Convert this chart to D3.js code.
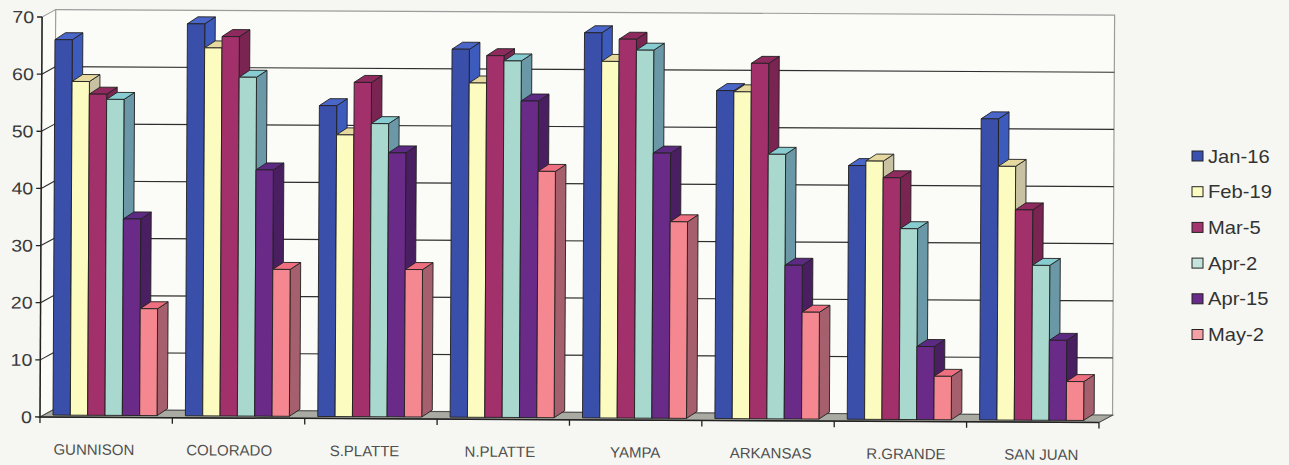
<!DOCTYPE html>
<html>
<head>
<meta charset="utf-8">
<script src="https://cdn.jsdelivr.net/npm/d3@7/dist/d3.min.js"></script>
<style>
  html, body { margin: 0; padding: 0; background: #f6f7f2; }
  svg { display: block; }
  text { font-family: "Liberation Sans", Arial, sans-serif; }
</style>
</head>
<body>
<svg id="chart" width="1289" height="465"></svg>
<script>
// Snowpack by basin for six survey dates
const categories = ["GUNNISON", "COLORADO", "S.PLATTE", "N.PLATTE", "YAMPA", "ARKANSAS", "R.GRANDE", "SAN JUAN"];
const seriesNames = ["Jan-16", "Feb-19", "Mar-5", "Apr-2", "Apr-15", "May-2"];
const jan16 = [65.7, 68.6, 54.4, 64.4, 67.4, 57.4, 44.4, 52.7];
const feb19 = [58.4, 64.4, 49.3, 58.5, 62.4, 57.2, 45.2, 44.4];
const mar5  = [56.2, 66.4, 58.5, 63.3, 66.3, 62.2, 42.3, 36.8];
const apr2  = [55.3, 59.3, 51.3, 62.4, 64.4, 46.3, 33.4, 27.1];
const apr15 = [34.4, 43.1, 46.2, 55.4, 46.4, 26.9, 12.8, 14.0];
const may2  = [18.7, 25.7, 25.8, 43.1, 34.4, 18.7, 7.6, 6.8];
const seriesValues = [jan16, feb19, mar5, apr2, apr15, may2];
const yTicks = [0, 10, 20, 30, 40, 50, 60, 70];

// face colours per series: front, side, top, legend swatch
const palette = [
  { front: "#3a4faa", side: "#3d5bbd", top: "#4a66c8", key: "#3a50b0" },
  { front: "#fdfcc0", side: "#c9c2a2", top: "#e6d9a0", key: "#fdfcc0" },
  { front: "#a2306a", side: "#7a2452", top: "#8e2a5e", key: "#a43470" },
  { front: "#a9d8ce", side: "#6b98a6", top: "#86ccd0", key: "#c4e4dc" },
  { front: "#6a2a88", side: "#4a1f62", top: "#5c2a82", key: "#6a2a8a" },
  { front: "#f4878f", side: "#a65f6c", top: "#ee6f80", key: "#f4a0a4" }
];

const svg = d3.select("#chart");
svg.append("rect").attr("width", 1289).attr("height", 465).attr("fill", "#f6f7f2");

// plot geometry
const x0 = 40, x1 = 1099;
const wall = { dx: 13.5, dy: -7.5 };   // depth of back wall
const barOff = { dx: 0, dy: -2 };      // bars stand slightly behind the front plane
const barDepth = { dx: 10.5, dy: -7 };

const y = d3.scaleLinear().domain([0, 70]).range([417, 17]);
const xBand = d3.scaleBand().domain(categories).range([x0, x1]).padding(0);
const xSeries = d3.scaleBand().domain(seriesNames).range([13, 117]).padding(0);
const xLabel = d3.scalePoint().domain(categories).range([94, 1041.5]);

const g = svg.append("g").attr("transform", "rotate(0.3, 40, 417)");

const pts = a => a.map(p => p.join(",")).join(" ");

// back wall and left side wall
g.append("polygon")
  .attr("points", pts([[x0 + wall.dx, y(70) + wall.dy], [x1 + wall.dx, y(70) + wall.dy],
                       [x1 + wall.dx, y(0) + wall.dy], [x0 + wall.dx, y(0) + wall.dy]]))
  .attr("fill", "#fbfcf8").attr("stroke", "#9c9c9c").attr("stroke-width", 1.2);
g.append("polygon")
  .attr("points", pts([[x0, y(0)], [x0, y(70)], [x0 + wall.dx, y(70) + wall.dy], [x0 + wall.dx, y(0) + wall.dy]]))
  .attr("fill", "#fbfcf8").attr("stroke", "#9c9c9c").attr("stroke-width", 1);

// gridlines on the walls
const grid = g.append("g");
yTicks.filter(v => v > 0 && v < 70).forEach(v => {
  grid.append("line")
    .attr("x1", x0 + wall.dx).attr("x2", x1 + wall.dx)
    .attr("y1", y(v) + wall.dy).attr("y2", y(v) + wall.dy)
    .attr("stroke", "#2e2e2e").attr("stroke-width", 1.2);
  grid.append("line")
    .attr("x1", x0).attr("x2", x0 + wall.dx)
    .attr("y1", y(v)).attr("y2", y(v) + wall.dy)
    .attr("stroke", "#2e2e2e").attr("stroke-width", 1.1);
});

// floor
g.append("polygon")
  .attr("points", pts([[x0, y(0)], [x1, y(0)], [x1 + wall.dx, y(0) + wall.dy], [x0 + wall.dx, y(0) + wall.dy]]))
  .attr("fill", "#a9aaa2").attr("stroke", "#4a4a4a").attr("stroke-width", 1);

// bars, drawn left to right so each front face covers its neighbour's side
const bars = g.append("g").attr("stroke", "#202020").attr("stroke-width", 0.9).attr("stroke-linejoin", "round");
categories.forEach((cat, ci) => {
  seriesNames.forEach((s, si) => {
    const v = seriesValues[si][ci];
    const c = palette[si];
    const L = xBand(cat) + xSeries(s) + barOff.dx;
    const R = L + xSeries.bandwidth();
    const B = y(0) + barOff.dy;
    const T = y(v) + barOff.dy;
    const dx = barDepth.dx, dy = barDepth.dy;
    bars.append("polygon").attr("fill", c.side)
      .attr("points", pts([[R, B], [R + dx, B + dy], [R + dx, T + dy], [R, T]]));
    bars.append("polygon").attr("fill", c.top)
      .attr("points", pts([[L, T], [R, T], [R + dx, T + dy], [L + dx, T + dy]]));
    bars.append("rect").attr("fill", c.front)
      .attr("x", L).attr("y", T).attr("width", R - L).attr("height", B - T);
  });
});

// value axis on the front edge
const yAxis = g.append("g");
yAxis.append("line").attr("x1", x0).attr("x2", x0).attr("y1", y(0)).attr("y2", y(70))
  .attr("stroke", "#222").attr("stroke-width", 1.5);
yAxis.selectAll(".tick").data(yTicks).join("line")
  .attr("x1", x0 - 5).attr("x2", x0).attr("y1", d => y(d)).attr("y2", d => y(d))
  .attr("stroke", "#222").attr("stroke-width", 1.3);
yAxis.selectAll("text").data(yTicks).join("text")
  .attr("transform", d => `translate(32, ${y(d) + 6}) scale(1.15, 1)`)
  .attr("text-anchor", "end").attr("font-size", 17).attr("fill", "#3a3a3a")
  .text(d => d);

// category axis
const xAxis = g.append("g");
xAxis.append("line").attr("x1", x0).attr("x2", x1).attr("y1", y(0)).attr("y2", y(0))
  .attr("stroke", "#222").attr("stroke-width", 1.5);
const bounds = categories.map(c => xBand(c)).concat([x1]);
xAxis.selectAll(".tick").data(bounds).join("line")
  .attr("x1", d => d).attr("x2", d => d).attr("y1", y(0)).attr("y2", y(0) + 6)
  .attr("stroke", "#222").attr("stroke-width", 1.3);
xAxis.selectAll("text").data(categories).join("text")
  .attr("x", d => xLabel(d)).attr("y", 454.5)
  .attr("text-anchor", "middle").attr("font-size", 15).attr("fill", "#505050")
  .text(d => d);

// legend
const legend = svg.append("g").attr("transform", "translate(1192, 151)");
seriesNames.forEach((s, i) => {
  const row = legend.append("g").attr("transform", `translate(0, ${i * 35.7})`);
  row.append("rect").attr("width", 11).attr("height", 10)
    .attr("fill", palette[i].key).attr("stroke", "#222").attr("stroke-width", 1);
  row.append("text")
    .attr("transform", "translate(16, 11.5) scale(1.12, 1)")
    .attr("font-size", 18).attr("fill", "#333")
    .text(s);
});
</script>
</body>
</html>
